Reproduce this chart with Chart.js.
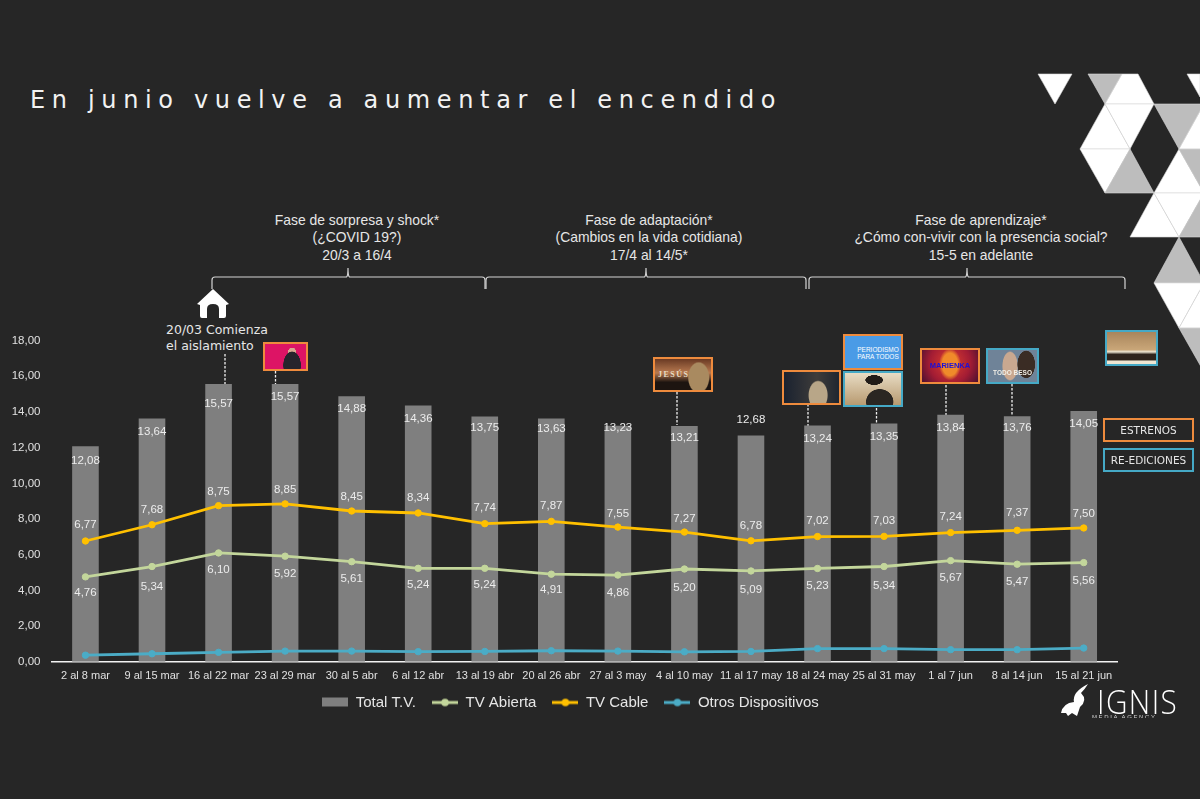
<!DOCTYPE html>
<html>
<head>
<meta charset="utf-8">
<title>En junio vuelve a aumentar el encendido</title>
<script src="https://cdn.jsdelivr.net/npm/chart.js@4"></script>
<style>
    html, body { margin: 0; padding: 0; background: #262626; }
    #page { position: relative; width: 1200px; height: 799px; overflow: hidden; background: #262626; font-family: "Liberation Sans", Arial, sans-serif; color: #e6e6e6; }
    #page canvas#encendido { position: absolute; left: 0; top: 322px; }
    #deco { position: absolute; left: 0; top: 0; }
    h1 { position: absolute; left: 30px; top: 86px; margin: 0; font: 400 24px "DejaVu Sans", sans-serif; letter-spacing: 6.65px; color: #f2f2f2; white-space: nowrap; }
    .fase { position: absolute; width: 320px; text-align: center; font-size: 13.9px; line-height: 17.5px; color: #e6e6e6; }
    .nota { position: absolute; left: 166px; top: 322px; font: 12.5px/16px "DejaVu Sans", sans-serif; color: #e6e6e6; white-space: nowrap; }
    .thumb { position: absolute; box-sizing: border-box; border: 2px solid; overflow: hidden; text-align: center; white-space: nowrap; font-weight: bold; }
    .estreno { border-color: #ee8b3d; }
    .reed { border-color: #45a9c6; }
    .tipo { position: absolute; left: 1103px; width: 91px; height: 24px; box-sizing: border-box; border-width: 2.5px; border-style: solid; text-align: center; font: 10.5px/20px "DejaVu Sans", sans-serif; color: #e6e6e6; }
    .logo { position: absolute; left: 1097px; top: 679px; font: 300 33px "Open Sans", sans-serif; letter-spacing: 1.6px; color: #fff; transform: scaleX(0.9); transform-origin: left center; }
    .sub { position: absolute; left: 1092px; top: 714px; font: 6px "Liberation Sans", sans-serif; letter-spacing: 1.6px; color: #cfcfcf; height: 4px; overflow: hidden; }
</style>
</head>
<body>
<div id="page">
    <svg id="deco" width="1200" height="799"></svg>
    <h1>En junio vuelve a aumentar el encendido</h1>

    <div class="fase" style="left:197px;top:211.5px">Fase de sorpresa y shock*<br>(¿COVID 19?)<br>20/3 a 16/4</div>
    <div class="fase" style="left:489px;top:211.5px">Fase de adaptación*<br>(Cambios en la vida cotidiana)<br>17/4 al 14/5*</div>
    <div class="fase" style="left:821px;top:211.5px">Fase de aprendizaje*<br>¿Cómo con-vivir con la presencia social?<br>15-5 en adelante</div>

    <div class="nota">20/03 Comienza<br>el aislamiento</div>

    <canvas id="encendido" width="1200" height="410"></canvas>

    <div class="thumb estreno" style="left:263px;top:342px;width:45px;height:29px;background:radial-gradient(ellipse 9px 14px at 66% 85%,#26242c 95%,transparent),radial-gradient(circle 4px at 66% 30%,#d8a890 95%,transparent),#dd1465"></div>
    <div class="thumb estreno" style="left:653px;top:357px;width:60px;height:35px;background:radial-gradient(ellipse 11px 16px at 78% 60%,#a98a60 90%,transparent),linear-gradient(180deg,#6a3a24 0%,#b87a50 45%,#1d1410 75%);font:700 8px/31px 'Liberation Serif',serif;color:#e6dcc4;letter-spacing:1.5px;text-align:left;padding-left:3px">JESÚS</div>
    <div class="thumb estreno" style="left:782px;top:370px;width:59px;height:35px;background:radial-gradient(ellipse 10px 15px at 62% 75%,#b8a688 90%,transparent),linear-gradient(90deg,#1a2230,#3e3c3a 60%,#1f2630);"></div>
    <div class="thumb estreno" style="left:843px;top:334px;width:60px;height:36px;background:#4a9be6;font:400 6.5px/7px 'Liberation Sans';color:#fff;padding:10px 0 0 10px">PERIODISMO<br>PARA TODOS</div>
    <div class="thumb reed" style="left:843px;top:371px;width:60px;height:36px;background:radial-gradient(ellipse 14px 13px at 62% 90%,#2a2622 95%,transparent),radial-gradient(ellipse 9px 5px at 52% 22%,#221c18 95%,transparent),linear-gradient(180deg,#e8dcc4,#b89a70)"></div>
    <div class="thumb estreno" style="left:920px;top:348px;width:60px;height:36px;background:radial-gradient(ellipse 11px 16px at 50% 45%,#f08a2a 70%,transparent),radial-gradient(circle at 50% 40%,#e0402e,#a31c34 60%,#4a1030);font:700 7.5px/32px 'Liberation Sans';color:#1c10d8">MARIENKA</div>
    <div class="thumb reed" style="left:986px;top:348px;width:53px;height:36px;background:radial-gradient(ellipse 9px 14px at 78% 45%,#3a2c24 95%,transparent),radial-gradient(ellipse 8px 15px at 45% 50%,#c9a890 90%,transparent),#6f8398;font:700 6.5px/45px 'Liberation Sans';color:#f2efe6">TODO BESO</div>
    <div class="thumb reed" style="left:1105px;top:330px;width:53px;height:36px;background:linear-gradient(180deg,#a8855c 0%,#c9a678 55%,#efe6d2 62%,#2f241c 70%,#2f241c 88%,#efe6d2 90%)"></div>

    <div class="tipo estreno" style="top:418px">ESTRENOS</div>
    <div class="tipo reed" style="top:448px">RE-EDICIONES</div>

    <div class="logo">IGNIS</div>
    <div class="sub">MEDIA AGENCY</div>
</div>

<script>
// Datos
const semanas = ['2 al 8 mar', '9 al 15 mar', '16 al 22 mar', '23 al 29 mar', '30 al 5 abr', '6 al 12 abr', '13 al 19 abr', '20 al 26 abr', '27 al 3 may', '4 al 10 may', '11 al 17 may', '18 al 24 may', '25 al 31 may', '1 al 7 jun', '8 al 14 jun', '15 al 21 jun'];
const totalTV = [12.08, 13.64, 15.57, 15.57, 14.88, 14.36, 13.75, 13.63, 13.23, 13.21, 12.68, 13.24, 13.35, 13.84, 13.76, 14.05];
const tvAbierta = [4.76, 5.34, 6.10, 5.92, 5.61, 5.24, 5.24, 4.91, 4.86, 5.20, 5.09, 5.23, 5.34, 5.67, 5.47, 5.56];
const tvCable = [6.77, 7.68, 8.75, 8.85, 8.45, 8.34, 7.74, 7.87, 7.55, 7.27, 6.78, 7.02, 7.03, 7.24, 7.37, 7.50];
const otrosDispositivos = [0.37, 0.45, 0.53, 0.60, 0.60, 0.57, 0.58, 0.62, 0.60, 0.56, 0.58, 0.74, 0.74, 0.68, 0.68, 0.77];

const coma = v => v.toFixed(2).replace('.', ',');

// Muestras de la leyenda: rectangulo para la barra, linea con punto para las series
function muestra(color, esBarra) {
    const c = document.createElement('canvas');
    c.width = 26;
    c.height = 12;
    const g = c.getContext('2d');
    g.fillStyle = color;
    if (esBarra) {
        g.fillRect(0, 1, 26, 9);
    } else {
        g.fillRect(0, 4.5, 26, 3);
        g.beginPath();
        g.arc(13, 6, 3.8, 0, Math.PI * 2);
        g.fill();
    }
    return c;
}

const muestras = [muestra('#7f7f7f', true), muestra('#c3d69b', false), muestra('#ffc000', false), muestra('#4bacc6', false)];

// Etiquetas de valores: desplazamiento vertical en px respecto a cada marca
const desplazamientos = [
    [15, 13, 20, 13, 13, 13, 11, 10, 2, 12, -16, 13, 13, 13, 12, 13],
    [16, 20, 17, 18, 17, 17, 17, 16, 18, 19, 19, 17, 19, 17, 18, 18],
    [-16, -15, -14, -14, -14, -15, -16, -16, -13, -13, -15, -16, -16, -16, -17, -14]
];

const etiquetas = {
    id: 'etiquetas',
    afterDatasetsDraw(chart) {
        const ctx = chart.ctx;
        ctx.save();
        ctx.font = '11.5px "Liberation Sans", Arial, sans-serif';
        ctx.fillStyle = '#ececec';
        ctx.textAlign = 'center';
        ctx.textBaseline = 'middle';
        [0, 1, 2].forEach(i => {
            chart.getDatasetMeta(i).data.forEach((el, j) => {
                ctx.fillText(coma(chart.data.datasets[i].data[j]), el.x, el.y + desplazamientos[i][j]);
            });
        });
        ctx.restore();
    }
};

// Acerca la leyenda al eje y la centra como en el original
const moverLeyenda = {
    id: 'moverLeyenda',
    afterLayout(chart) {
        const l = chart.legend;
        l.top -= 12;
        l.bottom -= 12;
        l.left += 12;
        l.right += 12;
    }
};

function serie(label, data, color) {
    return {
        type: 'line',
        label: label,
        data: data,
        borderColor: color,
        backgroundColor: color,
        borderWidth: 2.8,
        pointRadius: 3.2,
        pointBorderWidth: 1,
        pointStyle: 'circle',
        pointBackgroundColor: color,
        pointBorderColor: color,
        tension: 0,
        order: 1
    };
}

new Chart(document.getElementById('encendido'), {
    type: 'bar',
    data: {
        labels: semanas,
        datasets: [
            {
                label: 'Total T.V.',
                data: totalTV,
                backgroundColor: '#7f7f7f',
                barPercentage: 0.4,
                categoryPercentage: 1,
                order: 2
            },
            serie('TV Abierta', tvAbierta, '#c3d69b'),
            serie('TV Cable', tvCable, '#ffc000'),
            serie('Otros Dispositivos', otrosDispositivos, '#4bacc6')
        ]
    },
    options: {
        responsive: false,
        animation: false,
        layout: { padding: { left: 0, right: 83, top: 4, bottom: 0 } },
        plugins: {
            tooltip: { enabled: false },
            legend: {
                position: 'bottom',
                labels: {
                    color: '#e6e6e6',
                    font: { size: 15, family: '"Liberation Sans", Arial, sans-serif' },
                    usePointStyle: true,
                    pointStyleWidth: 26,
                    padding: 16,
                    sort: (a, b) => a.datasetIndex - b.datasetIndex,
                    generateLabels: chart => Chart.defaults.plugins.legend.labels.generateLabels(chart)
                        .map(item => ({ ...item, pointStyle: muestras[item.datasetIndex] }))
                }
            }
        },
        scales: {
            x: {
                grid: { display: false, drawTicks: false },
                border: { color: '#f2f2f2', width: 1.5 },
                ticks: {
                    color: '#e0e0e0',
                    font: { size: 11, family: '"Liberation Sans", Arial, sans-serif' },
                    autoSkip: false,
                    maxRotation: 0,
                    padding: 8
                }
            },
            y: {
                min: 0,
                max: 18,
                grid: { display: false, drawTicks: false },
                border: { display: false },
                ticks: {
                    stepSize: 2,
                    color: '#e0e0e0',
                    font: { size: 11.5, family: '"Liberation Sans", Arial, sans-serif' },
                    padding: 11.7,
                    callback: v => coma(v)
                }
            }
        }
    },
    plugins: [etiquetas, moverLeyenda]
});

// Decoracion: triangulos, llaves de las fases, casa y lineas punteadas
const svg = document.getElementById('deco');
const blanco = '#ffffff', gris = '#bdbdbd';
const triangulos = [
    [blanco, '1038,74 1072,74 1055,104'],
    [gris, '1088,74 1122,74 1105,104'],
    [blanco, '1122,74 1138,74 1154,104 1105,104'],
    [blanco, '1187,74 1200,74 1200,97'],
    [blanco, '1105,104 1080,149 1130,149'],
    [blanco, '1105,104 1154,104 1130,149'],
    [gris, '1154,104 1204,104 1179,149'],
    [blanco, '1204,104 1179,149 1228,149'],
    [blanco, '1080,149 1130,149 1105,193'],
    [gris, '1130,149 1105,193 1154,193'],
    [blanco, '1179,149 1154,193 1204,193'],
    [gris, '1179,149 1228,149 1204,193'],
    [blanco, '1154,193 1130,237 1179,237'],
    [blanco, '1154,193 1204,193 1179,237'],
    [gris, '1204,193 1179,237 1228,237'],
    [gris, '1179,237 1154,283 1204,283'],
    [blanco, '1154,283 1204,283 1179,328'],
    [blanco, '1204,283 1179,328 1228,328'],
    [gris, '1179,328 1228,328 1204,372']
];
const llaves = [[212, 485, 348], [486, 806, 646], [809, 1125, 967]];
const punteadas = [[225, 354, 390], [275.5, 371, 388], [677, 392, 425], [808, 392, 428], [876.5, 408, 425], [946, 385, 418], [1012, 384, 416]];

let html = '';
triangulos.forEach(t => {
    html += `<polygon points="${t[1]}" fill="${t[0]}" stroke="#d8d8d8" stroke-width="0.6"/>`;
});
llaves.forEach(l => {
    html += `<path d="M${l[0]} 289 V280 Q${l[0]} 277 ${l[0] + 3} 277 H${l[2] - 1.5} Q${l[2]} 276 ${l[2]} 268 Q${l[2]} 276 ${l[2] + 1.5} 277 H${l[1] - 3} Q${l[1]} 277 ${l[1]} 280 V289" fill="none" stroke="#d4d4d4" stroke-width="1.2"/>`;
});
punteadas.forEach(p => {
    html += `<line x1="${p[0]}" y1="${p[1]}" x2="${p[0]}" y2="${p[2]}" stroke="#f0f0f0" stroke-width="1.3" stroke-dasharray="2.5 1.5"/>`;
});
// casa
html += '<path d="M213 289 L229 304 L226 305 V316 Q226 318 224 318 H219 V309 Q219 304 213 304 Q207 304 207 309 V318 H202 Q200 318 200 316 V305 L197 304 Z" fill="#ffffff"/>';
// llama del logo
html += '<path d="M1088 684 Q1072 692 1074 702 Q1063 703 1061 713 L1066 713 L1068 716 L1072 713 L1077 716 L1080 707 Q1088 700 1081 693 Q1085 689 1088 684 Z" fill="#ffffff"/>';
svg.innerHTML = html;
</script>
</body>
</html>
